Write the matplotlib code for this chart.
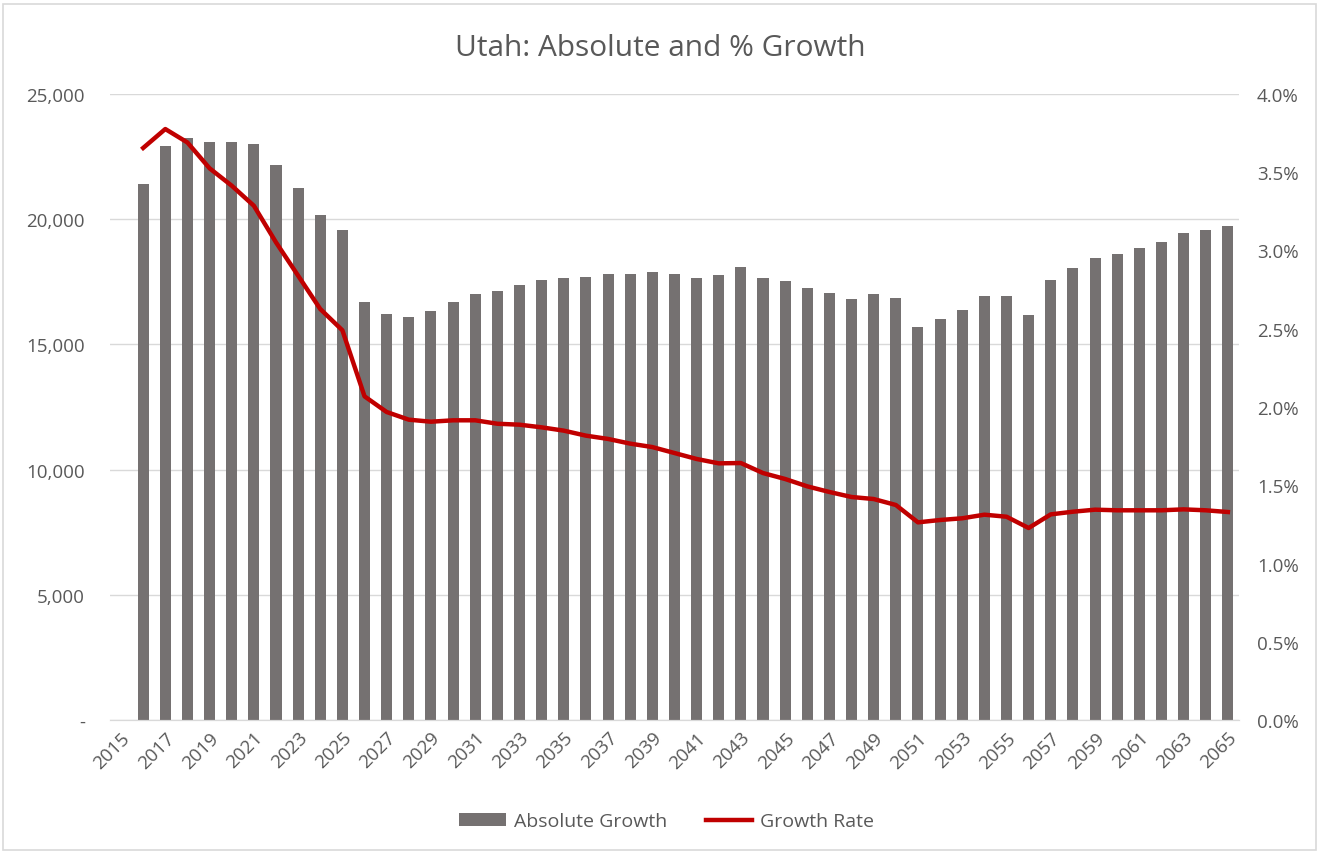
import matplotlib.pyplot as plt
import numpy as np

# Utah: absolute growth (bars) and growth rate (line), 2015-2065
years = list(range(2015, 2066))
absolute_growth = [np.nan,
                   21420, 22910, 23230, 23080, 23080, 22990, 22150, 21230, 20170, 19560,
                   16680, 16230, 16080, 16330, 16690, 17010, 17150, 17390, 17570, 17670,
                   17710, 17810, 17810, 17890, 17810, 17650, 17770, 18090, 17650, 17530,
                   17250, 17050, 16820, 17020, 16840, 15680, 16000, 16370, 16920, 16920,
                   16170, 17560, 18040, 18460, 18590, 18830, 19100, 19430, 19570, 19740]
growth_rate = [np.nan,
               3.655, 3.776, 3.690, 3.525, 3.414, 3.286, 3.052, 2.839, 2.626, 2.490,
               2.068, 1.968, 1.919, 1.906, 1.915, 1.915, 1.893, 1.887, 1.870, 1.849,
               1.817, 1.796, 1.766, 1.744, 1.706, 1.668, 1.640, 1.642, 1.578, 1.540,
               1.493, 1.457, 1.425, 1.412, 1.374, 1.263, 1.278, 1.289, 1.312, 1.299,
               1.227, 1.314, 1.331, 1.344, 1.340, 1.340, 1.340, 1.346, 1.340, 1.329]

bar_color = '#757171'
line_color = '#C00000'
text_color = '#595959'
grid_color = '#D9D9D9'

plt.rcParams['font.family'] = ['Open Sans', 'DejaVu Sans']

fig = plt.figure(figsize=(13.2, 8.54), dpi=100)
ax = fig.add_axes([0.0833, 0.1557, 0.8553, 0.7331])
ax2 = ax.twinx()

x = np.arange(len(years))
ax.bar(x, absolute_growth, width=0.5, color=bar_color, label='Absolute Growth', zorder=2)
ax2.plot(x, np.array(growth_rate) / 100, color=line_color, linewidth=3.2,
         solid_joinstyle='round', label='Growth Rate')

ax.set_xlim(-0.5, len(years) - 0.5)
ax.set_ylim(0, 25000)
ax2.set_ylim(0, 0.04)

ax.set_yticks(np.arange(0, 25001, 5000))
ax.set_yticklabels(['-' if v == 0 else f'{v:,}' for v in range(0, 25001, 5000)])
ax2.set_yticks(np.arange(0, 0.0401, 0.005))
ax2.set_yticklabels([f'{v:.1f}%' for v in np.arange(0, 4.01, 0.5)])

ax.set_xticks(x)
ax.set_xticklabels([str(y) if (y - 2015) % 2 == 0 else '' for y in years],
                   rotation=45, ha='right', rotation_mode='anchor')

for a in (ax, ax2):
    for s in ['top', 'left', 'right']:
        a.spines[s].set_visible(False)
    a.spines['bottom'].set_color(grid_color)
    a.tick_params(length=0, colors=text_color, labelsize=13.5)
ax.tick_params(axis='y', pad=18)
ax.tick_params(axis='x', pad=6)
ax2.tick_params(axis='y', pad=13)

ax.grid(axis='y', color=grid_color, linewidth=1, zorder=0)
ax.set_axisbelow(True)

fig.suptitle('Utah: Absolute and % Growth', y=0.96, fontsize=21.5, color=text_color)

h1, l1 = ax.get_legend_handles_labels()
h2, l2 = ax2.get_legend_handles_labels()
fig.legend(h1 + h2, l1 + l2, loc='center', bbox_to_anchor=(0.505, 0.037), ncol=2,
           frameon=False, fontsize=14, labelcolor=text_color,
           handlelength=2.4, handleheight=0.6, columnspacing=2.0, handletextpad=0.4)

fig.patches.append(plt.Rectangle((0.002, 0.004), 0.995, 0.99, transform=fig.transFigure,
                                 fill=False, edgecolor='#D9D9D9', linewidth=1.2))

fig.savefig('out.png', dpi=100)
